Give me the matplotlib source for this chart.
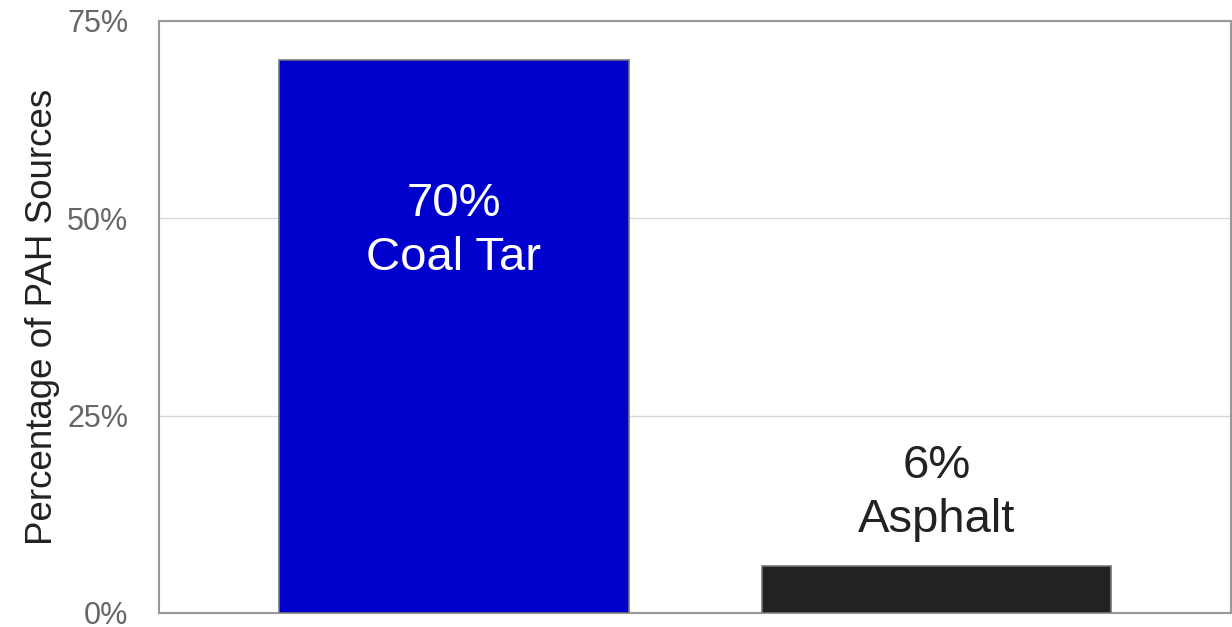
import matplotlib.pyplot as plt
from matplotlib.ticker import PercentFormatter

plt.rcParams['font.family'] = ['Liberation Sans', 'DejaVu Sans']

# data
sources = ['Coal Tar', 'Asphalt']
shares = [70, 6]
bar_colors = ['#0000cc', '#222222']
label_colors = ['white', '#222222']
yticks = [0, 25, 50, 75]

fig = plt.figure(figsize=(12.32, 6.27), dpi=100)
ax = fig.add_axes([159 / 1232, 14 / 627, 1 - 159 / 1232 - 0.0005, 592 / 627])

x = list(range(len(sources)))
ax.bar(x, shares, width=0.725, color=bar_colors, edgecolor='#777777', linewidth=1.2, zorder=3)

# labels: inside the tall bar, above the short one
for i, (name, v) in enumerate(zip(sources, shares)):
    y = v - 21.6 if v > 30 else v + 9.2
    ax.text(i, y, f'{v}%\n{name}', ha='center', va='center', fontsize=34,
            color=label_colors[i], linespacing=1.32, zorder=4)

ax.set_xlim(-0.611, 1.611)
ax.set_ylim(0, 75)
ax.set_yticks(yticks)
ax.yaxis.set_major_formatter(PercentFormatter(decimals=0))
ax.set_xticks([])
ax.tick_params(axis='y', length=0, pad=22, labelsize=22, labelcolor='#666666')
ax.grid(axis='y', color='#d9d9d9', linewidth=1, zorder=0)
for s in ax.spines.values():
    s.set_color('#999999')
    s.set_linewidth(1.5)

ax.set_ylabel('Percentage of PAH Sources', fontsize=26.5, color='#222222', labelpad=5)

fig.savefig('out.png', dpi=100)
